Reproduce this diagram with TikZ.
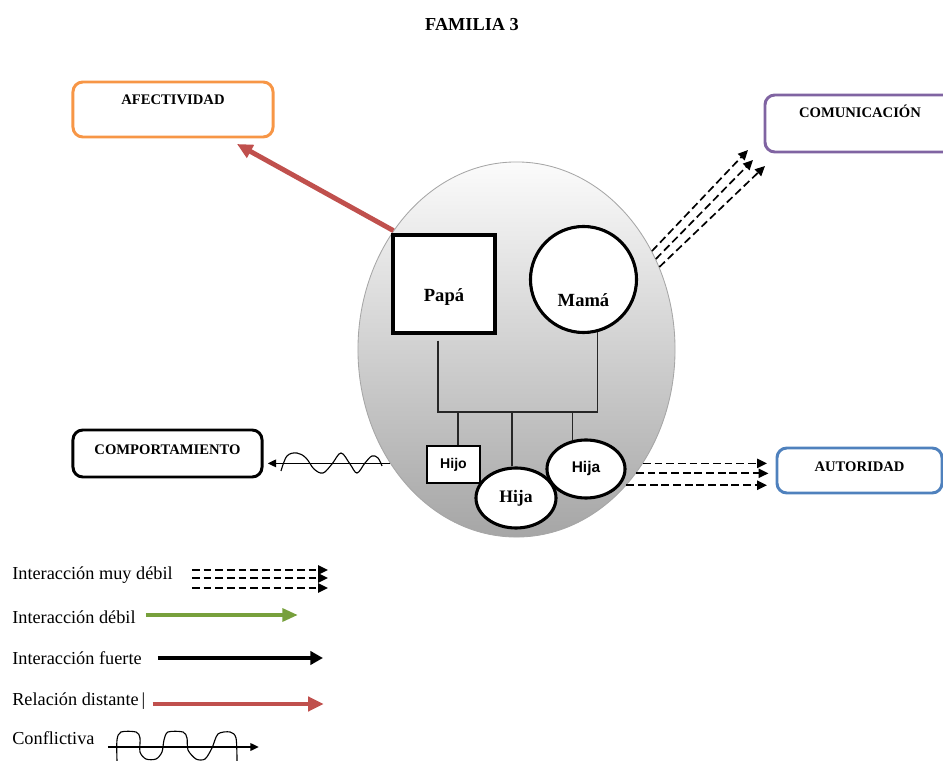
\documentclass[tikz,border=0pt]{standalone}
\usepackage{fontspec}
\setmainfont{Liberation Serif}
\newfontfamily\arialfont{Liberation Sans}
\usepackage{xcolor}
\usepackage{tikz}
\usetikzlibrary{positioning}
\usetikzlibrary{shapes.geometric}
\usetikzlibrary{arrows.meta}
\usetikzlibrary{calc}

\definecolor{naranja}{HTML}{F79646}
\definecolor{morado}{HTML}{8064A2}
\definecolor{azul}{HTML}{4F81BD}
\definecolor{rojo}{HTML}{C0504D}
\definecolor{verde}{HTML}{77A03C}

\begin{document}
\begin{tikzpicture}[x=0.025cm, y=-0.025cm,
		caja/.style={draw, rounded corners=7pt, line width=2.1pt, inner sep=0pt,
			font=\bfseries\fontsize{10.4}{12}\selectfont},
		miembro/.style={draw, line width=2.2pt, fill=white, inner sep=0pt},
		persona/.style={font=\bfseries\fontsize{13.2}{15}\selectfont},
		leyenda/.style={anchor=west, inner sep=0pt, font=\fontsize{13}{15}\selectfont},
		linea/.style={line width=0.8pt, black!85},
		muydebil/.style={line width=1.2pt, dash pattern=on 5.5pt off 2.8pt,
			-{Triangle[length=7pt,width=6.5pt]}},
		debil/.style={verde, line width=3pt, -{Triangle[length=11pt,width=9pt]}},
		fuerte/.style={black, line width=2.2pt, -{Triangle[length=9pt,width=9.5pt]}},
		distante/.style={rojo, line width=3.5pt, -{Triangle[length=11pt,width=10pt]}},
		conflicto/.style={black, line width=0.9pt, -{Triangle[length=6pt,width=5.5pt]}},
		onda/.style={black, line width=0.8pt}]
		\useasboundingbox (0,0) rectangle (943,761);
		% titulo y cajas
		\node [font=\bfseries\fontsize{13}{15}\selectfont] (titulo) at (472,25) {FAMILIA 3};
		\node [caja, draw=naranja, minimum width=5cm, text height=0.575cm, text depth=0.8cm] (afectividad) at (173,109.5) {AFECTIVIDAD};
		\node [caja, draw=morado, minimum width=4.75cm, text height=0.575cm, text depth=0.85cm] (comunicacion) at (860,123.5) {COMUNICACIÓN};
		\node [caja, draw=black, minimum width=4.725cm, text height=0.625cm, text depth=0.55cm] (comportamiento) at (167.5,453.5) {COMPORTAMIENTO};
		\node [caja, draw=azul, minimum width=4.125cm, text height=0.6cm, text depth=0.525cm] (autoridad) at (859.5,470.5) {AUTORIDAD};
		% familia
		\node [ellipse, draw=gray!70, line width=0.6pt, minimum width=7.925cm, minimum height=9.375cm,
				inner sep=0pt, top color=gray!3, bottom color=gray!70] (familia) at (516.5,349.5) {};
		\node [miembro, minimum width=2.55cm, minimum height=2.45cm,
				label={[persona, yshift=-9pt]center:Papá}] (papa) at (444,284) {};
		\node [miembro, circle, minimum size=2.65cm,
				label={[persona, yshift=-15pt]center:Mamá}] (mama) at (583.5,279.5) {};
		\node [miembro, line width=2pt, minimum width=1.325cm, minimum height=0.925cm,
				font=\arialfont\bfseries\fontsize{10}{12}\selectfont] (hijo) at (453.5,464.5) {Hijo};
		\node [miembro, ellipse, minimum width=2cm, minimum height=1.5cm,
				font=\bfseries\fontsize{12.5}{14}\selectfont] (hija1) at (516,498) {Hija};
		\node [miembro, ellipse, minimum width=1.95cm, minimum height=1.45cm,
				font=\arialfont\bfseries\fontsize{11}{13}\selectfont] (hija2) at (586,469) {Hija};
		\coordinate (barra) at (512,412);
		\draw [linea] ($(papa.south)+(-6,6)$) |- (barra) -| (mama.-75);
		\draw [linea] ($(hijo.north)+(4.5,0)$) -- ($(hijo.north |- barra)+(4.5,0)$);
		\draw [linea] ($(hija1.north)+(-4,0)$) -- ($(hija1.north |- barra)+(-4,0)$);
		\draw [linea] (hija2.115) -- (hija2.115 |- barra);
		% relaciones
		\coordinate (fafec) at (237,144);
		\coordinate (fcom1) at (748,150);
		\coordinate (fcom2) at (753,160);
		\coordinate (fcom3) at (765,166);
		\path
			(familia.136) edge [distante] (fafec)
			(familia.36) edge [muydebil] (fcom1)
			(familia.33) edge [muydebil] (fcom2)
			(familia.30) edge [muydebil] (fcom3)
			(familia.-42) edge [muydebil, shorten >=6pt] (familia.-42 -| autoridad.west)
			(familia.-46) edge [muydebil, shorten >=5pt] (familia.-46 -| autoridad.west)
			(familia.-51) edge [muydebil, shorten >=6pt] (familia.-51 -| autoridad.west)
			(familia.222) edge [conflicto, shorten >=3pt] (familia.222 -| comportamiento.east);
		\draw [onda] plot [smooth, tension=0.6] coordinates {(281,471) (287,456) (297,453) (306,458)
			(314,469) (323,473) (332,464) (341,453) (350,464) (357,473) (365,463) (372,456) (378,458) (382,466)};
		% leyenda
		\node [leyenda] (lmuydebil) at (12,575) {Interacción muy débil};
		\node [leyenda] (ldebil) at (12,617) {Interacción débil};
		\node [leyenda] (lfuerte) at (12,658) {Interacción fuerte};
		\node [leyenda] (ldistante) at (12,701) {Relación distante\,|};
		\node [leyenda] (lconflictiva) at (12,738) {Conflictiva};
		\foreach \dy in {-5,3,13}
			\draw [muydebil] ($(lmuydebil.east)+(19,\dy)$) -- ++(136,0);
		\draw [debil] ($(ldebil.east)+(10,-2)$) -- ++(152,0);
		\draw [fuerte] ($(lfuerte.east)+(16,0)$) -- ++(165,0);
		\draw [distante] ($(ldistante.east)+(7,3)$) -- ++(171,0);
		\draw [conflicto] ($(lconflictiva.east)+(13,9)$) -- ++(151,0);
		\draw [onda] plot [smooth, tension=0.5] coordinates {(117,761) (117,740) (121,732) (136,732)
			(140,738) (140,752) (146,759) (156,759) (162,752) (164,740) (168,732) (183,732) (187,738)
			(188,750) (196,759) (205,759) (212,748) (218,734) (230,732) (236,738) (237,761)};
\end{tikzpicture}
\end{document}
